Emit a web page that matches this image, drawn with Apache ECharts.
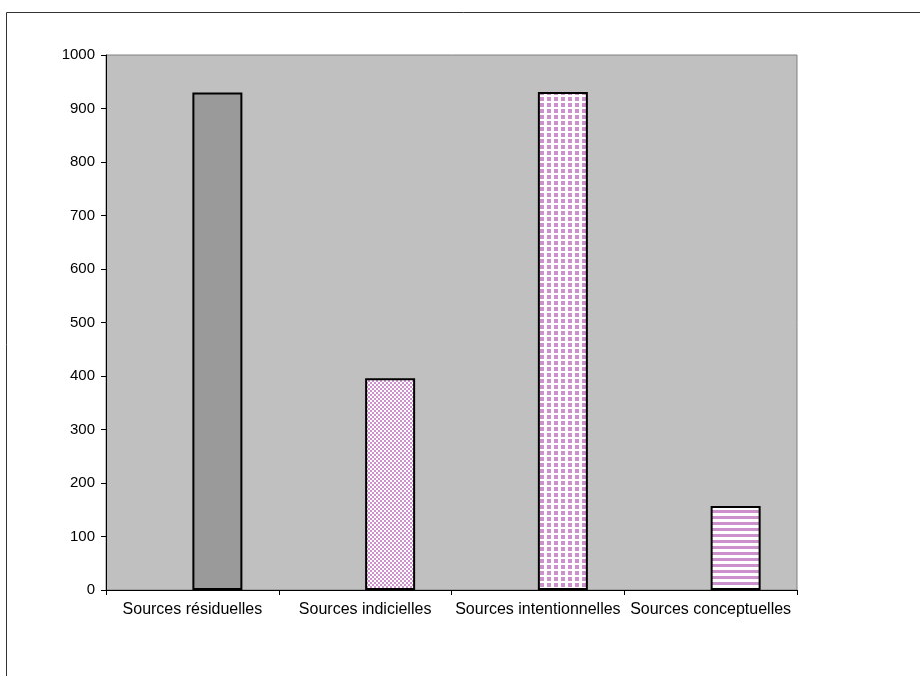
<!DOCTYPE html>
<html><head><meta charset="utf-8">
<script src="https://cdn.jsdelivr.net/npm/echarts@6/dist/echarts.min.js"></script>
<style>html,body{margin:0;padding:0;background:#fff}#c{width:920px;height:676px}</style>
</head><body><div id="c"></div>
<script>
const categories = ["Sources résiduelles", "Sources indicielles", "Sources intentionnelles", "Sources conceptuelles"];
const values = [930, 396, 931, 157];
const emptySlot = [null, null, null, null];
const yTicks = [0, 100, 200, 300, 400, 500, 600, 700, 800, 900, 1000];

function makePattern(kind) {
  const c = document.createElement('canvas');
  const ctx = c.getContext('2d');
  const pink = '#cc90cc';
  if (kind === 'dots') {
    c.width = 4; c.height = 4;
    ctx.fillStyle = '#ffffff'; ctx.fillRect(0, 0, 4, 4);
    ctx.fillStyle = pink; ctx.fillRect(0, 0, 2, 2); ctx.fillRect(2, 2, 2, 2);
  } else if (kind === 'grid') {
    c.width = 7; c.height = 6;
    ctx.fillStyle = '#ffffff'; ctx.fillRect(0, 0, 7, 6);
    ctx.fillStyle = pink; ctx.fillRect(1, 1, 4, 4);
  } else if (kind === 'stripes') {
    c.width = 4; c.height = 6;
    ctx.fillStyle = '#ffffff'; ctx.fillRect(0, 0, 4, 6);
    ctx.fillStyle = pink; ctx.fillRect(0, 0, 4, 3);
  }
  return { image: c, repeat: 'repeat' };
}

const fills = ['#9a9a9a', makePattern('dots'), makePattern('grid'), makePattern('stripes')];

const chart = echarts.init(document.getElementById('c'), null, { renderer: 'canvas' });
chart.setOption({
  animation: false,
  backgroundColor: '#ffffff',
  graphic: [{
    type: 'rect', shape: { x: 6.5, y: 12.5, width: 1000, height: 1000 },
    style: { fill: 'none', stroke: '#333333', lineWidth: 1 }, z: 0
  }],
  grid: {
    left: 106, right: 123, top: 55, bottom: 86,
    show: true, backgroundColor: '#c0c0c0', borderColor: '#808080', borderWidth: 1
  },
  xAxis: {
    type: 'category', data: categories,
    axisLine: { lineStyle: { color: '#000', width: 1 } },
    axisTick: { show: true, length: 5, lineStyle: { color: '#000' } },
    axisLabel: { color: '#000', fontFamily: 'Liberation Sans', fontSize: 16, margin: 12, interval: 0 }
  },
  yAxis: {
    type: 'value', min: yTicks[0], max: yTicks[yTicks.length - 1], interval: yTicks[1] - yTicks[0],
    axisLine: { show: true, lineStyle: { color: '#000', width: 1 } },
    axisTick: { show: true, length: 5, lineStyle: { color: '#000' } },
    splitLine: { show: false },
    axisLabel: { color: '#000', fontFamily: 'Liberation Sans', fontSize: 15, margin: 11,
      formatter: function (v) { return String(v); } }
  },
  series: [{
    type: 'bar', barWidth: 50, barGap: 0, data: emptySlot
  }, {
    type: 'bar', barWidth: 50, barGap: 0,
    data: values.map((v, i) => ({ value: v, itemStyle: { color: fills[i] } })),
    itemStyle: { borderColor: '#000', borderWidth: 2 }
  }]
});
</script></body></html>
